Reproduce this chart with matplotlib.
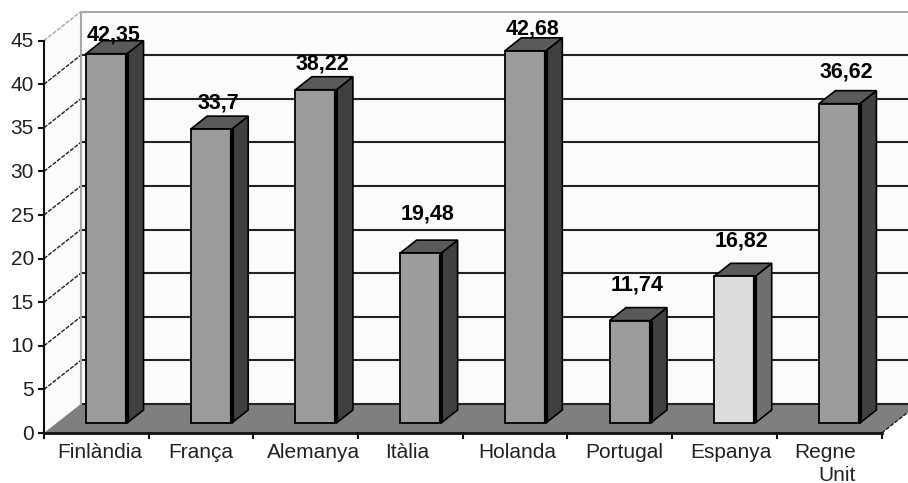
import matplotlib
matplotlib.use('Agg')
import matplotlib.pyplot as plt
from matplotlib.patches import Polygon

plt.rcParams['font.family'] = ['Liberation Sans', 'DejaVu Sans']

# data
countries = ['Finlàndia', 'França', 'Alemanya', 'Itàlia', 'Holanda', 'Portugal', 'Espanya', 'Regne\nUnit']
values = [42.35, 33.7, 38.22, 19.48, 42.68, 11.74, 16.82, 36.62]
value_labels = ['42,35', '33,7', '38,22', '19,48', '42,68', '11,74', '16,82', '36,62']
y_ticks = [0, 5, 10, 15, 20, 25, 30, 35, 40, 45]

# how far each value label sits above its bar, and where the country names sit (pixels)
label_gap = [19, 26, 26, 39, 22, 36, 35, 32]
name_shift = [3, 0, 8, -3, 2, 4, 6, -4]

# size of one category and one value unit on screen
px_cat = 104.7
px_val = 8.72
bar_w = 41 / px_cat
slant = 1.27


def depth(x, y, d):
    # move a point d pixels backwards in the fake 3d
    return x + d * slant / px_cat, y + d / px_val


fig = plt.figure(figsize=(9.08, 4.83), dpi=100)
ax = fig.add_axes([0, 0, 1, 1])
ax.set_xlim(-86 / px_cat, 822 / px_cat)
ax.set_ylim(-60 / px_val, 423 / px_val)
ax.axis('off')

x_start = -0.28
x_end = x_start + len(countries)
front = -10
back = 19
top_val = y_ticks[-1]

# back wall, left wall, floor
p = [depth(x_start, 0, back), depth(x_end, 0, back), depth(x_end, top_val, back), depth(x_start, top_val, back)]
ax.add_patch(Polygon(p, facecolor='#fbfbfb', edgecolor='none', zorder=1))
p = [depth(x_start, 0, front), depth(x_start, 0, back), depth(x_start, top_val, back), depth(x_start, top_val, front)]
ax.add_patch(Polygon(p, facecolor='#fbfbfb', edgecolor='none', zorder=1))
p = [depth(x_start, 0, front), depth(x_end, 0, front), depth(x_end, 0, back), depth(x_start, 0, back)]
ax.add_patch(Polygon(p, facecolor='#7f7f7f', edgecolor='none', zorder=2))

# grid lines on the walls
for v in y_ticks:
    c = '#a8a8a8' if v == top_val else '#222222'
    x0, y0 = depth(x_start, v, front)
    x1, y1 = depth(x_start, v, back)
    x2, y2 = depth(x_end, v, back)
    ax.plot([x1, x2], [y1, y2], color=c, lw=1.5, zorder=3)
    if v > 0:
        ax.plot([x0, x1], [y0, y1], color=c, lw=1, ls=(0, (3, 1)), zorder=3)
    ax.plot([x0 - 5 / px_cat, x0], [y0, y0], color='#111111', lw=1.5, zorder=6)
    ax.text(x0 - 10 / px_cat, y0 - 1 / px_val, str(v), ha='right', va='center', fontsize=15, color='#222222')

x1, y1 = depth(x_start, 0, back)
x2, y2 = depth(x_start, top_val, back)
ax.plot([x1, x2], [y1, y2], color='#a8a8a8', lw=1.5, zorder=3)
x1, y1 = depth(x_end, 0, front)
x2, y2 = depth(x_end, 0, back)
ax.plot([x1, x2], [y1, y2], color='#222222', lw=1, ls=(0, (3, 1)), zorder=3)

# bars
bar_x = list(range(len(values)))
front_cols = ['#9c9c9c'] * len(values)
top_cols = ['#5a5a5a'] * len(values)
side_cols = ['#404040'] * len(values)
front_cols[6] = '#dcdcdc'
side_cols[6] = '#707070'

ax.bar(bar_x, values, width=bar_w, align='edge', color=front_cols, edgecolor='black', linewidth=1.3, zorder=5)
for i, v in enumerate(values):
    r = i + bar_w
    side = [(r, 0), depth(r, 0, 13), depth(r, v, 13), (r, v)]
    top = [(i, v), (r, v), depth(r, v, 13), depth(i, v, 13)]
    ax.add_patch(Polygon(side, facecolor=side_cols[i], edgecolor='black', lw=1.2, zorder=4))
    ax.add_patch(Polygon(top, facecolor=top_cols[i], edgecolor='black', lw=1.2, zorder=4))
    ax.plot([r, r], [0, v], color='black', lw=3, zorder=6, solid_capstyle='butt')
    ax.text(i + bar_w / 2 + 7 / px_cat, v + label_gap[i] / px_val, value_labels[i], ha='center', va='center',
            fontsize=15.5, fontweight='bold', color='black', zorder=7)

# front axes
x0, y0 = depth(x_start, 0, front)
x1, y1 = depth(x_end, 0, front)
ax.plot([x0, x1], [y0, y1], color='#111111', lw=2, zorder=6)
x2, y2 = depth(x_start, top_val, front)
ax.plot([x0, x2], [y0, y2], color='#111111', lw=1.5, zorder=6)

for k in range(len(countries) + 1):
    xt = x0 + k
    ax.plot([xt, xt], [y0, y0 - 5 / px_val], color='#111111', lw=1.5, zorder=6)

for k, name in enumerate(countries):
    ax.text(x0 + k + 0.5 + name_shift[k] / px_cat, y0 - 10 / px_val, name, ha='center', va='top', ma='right',
            fontsize=15, color='#222222', linespacing=1.25)

fig.savefig('out.png', dpi=100)
